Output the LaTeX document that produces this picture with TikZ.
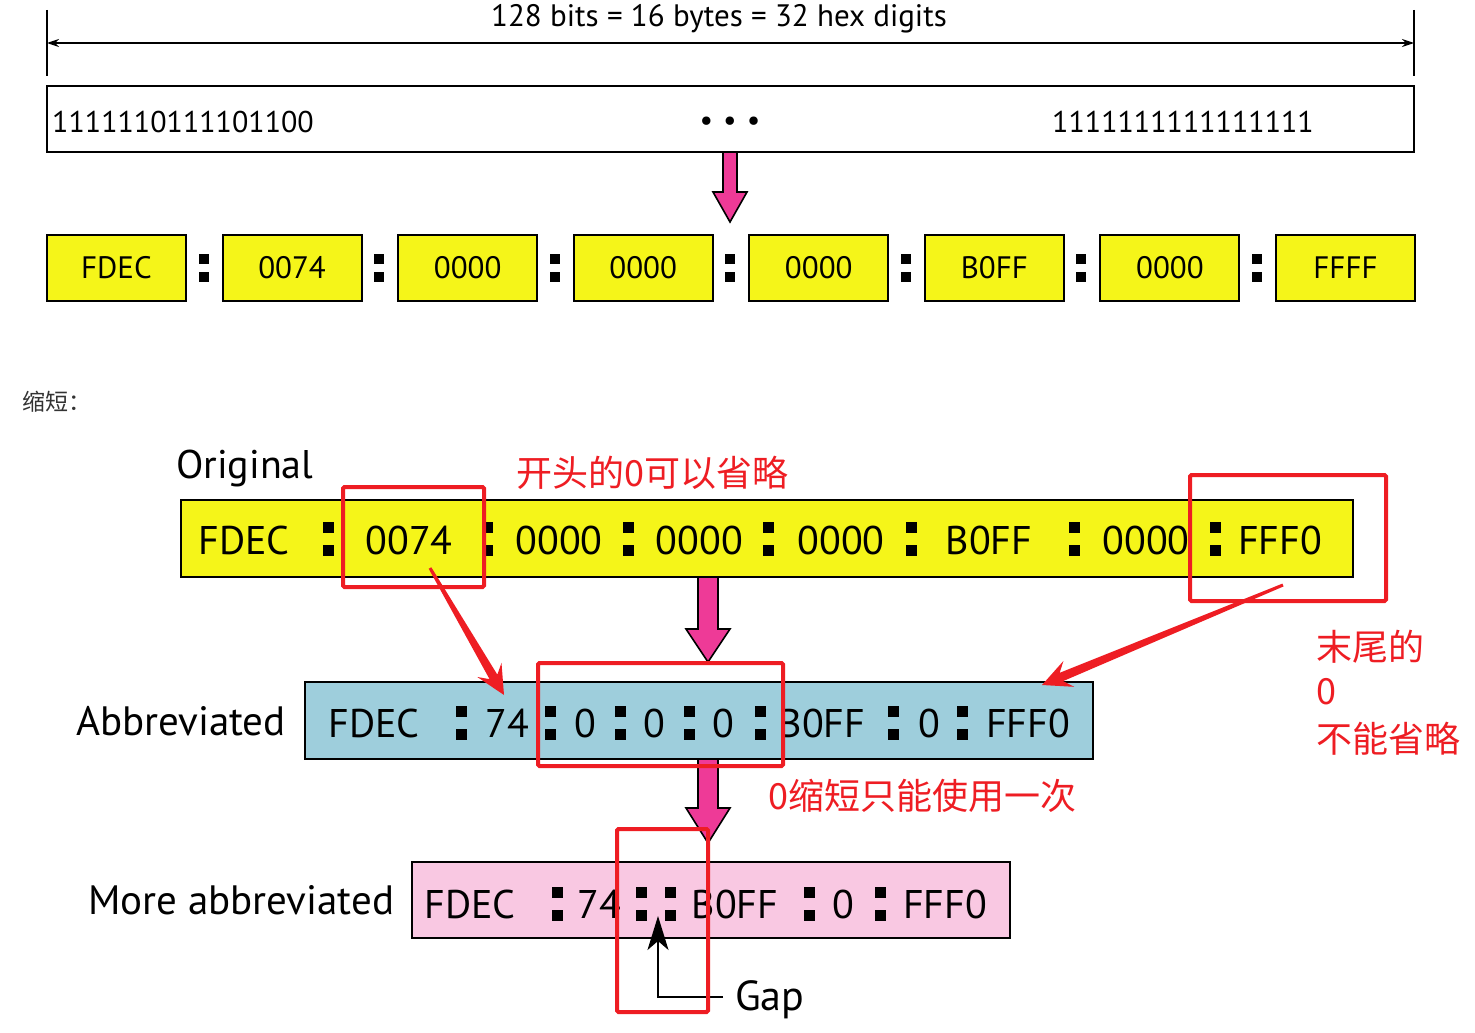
\documentclass[tikz,border=0pt]{standalone}
\usepackage{fontspec}
\setmainfont{PT Sans}
\newfontfamily\cjk{Noto Sans CJK SC}
\usetikzlibrary{arrows.meta,calc}
\definecolor{yel}{HTML}{F5F519}
\definecolor{blu}{HTML}{9ECEDC}
\definecolor{pnk}{HTML}{F9C8E2}
\definecolor{parr}{HTML}{EE3A97}
\definecolor{rd}{HTML}{EE1D23}
\definecolor{gry}{HTML}{333333}
\newcommand\pinkarr[6]{% x, ytop, yhead, ytip, halfshaft, halfhead
  \draw[fill=parr,line width=1.6pt,line join=miter]
    ({#1-#5},#2) -- ({#1+#5},#2) -- ({#1+#5},#3) -- ({#1+#6},#3) -- (#1,#4)
    -- ({#1-#6},#3) -- ({#1-#5},#3) -- cycle;}
% tapered red arrow from named coordinate #1 to named coordinate #2
\newcommand\taperarr[2]{%
  \fill[rd]
    ($(#1)!1.5pt!90:(#2)$) --
    ($($(#2)!21pt!(#1)$)!4.5pt!-90:(#1)$) --
    ($($(#2)!29pt!(#1)$)!14pt!-90:(#1)$) --
    (#2) --
    ($($(#2)!29pt!(#1)$)!14pt!90:(#1)$) --
    ($($(#2)!21pt!(#1)$)!4.5pt!90:(#1)$) --
    ($(#1)!1.5pt!-90:(#2)$) -- cycle;}
\begin{document}
\begin{tikzpicture}[x=1pt,y=-1pt,
  cell/.style={draw=black,line width=2pt,fill=yel,inner sep=0pt,outer sep=0pt,
    anchor=north west,minimum width=139pt,minimum height=66pt,font=\fontsize{31}{31}\selectfont},
  bar/.style={draw=black,line width=2pt,inner sep=0pt,outer sep=0pt,anchor=north west},
  bt/.style={inner sep=0pt,font=\fontsize{40}{40}\selectfont},
  lbl/.style={inner sep=0pt,anchor=base west,font=\fontsize{41}{41}\selectfont},
  rt/.style={inner sep=0pt,anchor=base west,text=rd,font=\cjk\fontsize{36}{36}\selectfont},
  hl/.style={draw=rd,line width=4pt,rounded corners=1.5pt,inner sep=0pt,outer sep=0pt,anchor=north west},
  colS/.pic={\fill (-5,-14) rectangle (5,-4); \fill (-5,4) rectangle (5,14);},
  colL/.pic={\fill (-5.5,-17) rectangle (5.5,-6); \fill (-5.5,6) rectangle (5.5,17);}
]
\useasboundingbox (0,0) rectangle (1475,1033);
% ---------- top part ----------
\draw[line width=2pt] (47,10) -- (47,76);
\draw[line width=2pt] (1414,10) -- (1414,76);
\coordinate (dl) at (47,43);
\coordinate (dr) at (1414,43);
\draw[line width=1.2pt,{Stealth[length=12pt,width=8pt]}-{Stealth[length=12pt,width=8pt]}] (dl) -- (dr);
\node[inner sep=0pt,anchor=base,font=\fontsize{31}{31}\selectfont] (dim) at (719,27) {128 bits = 16 bytes = 32 hex digits};
\node[bar,minimum width=1367pt,minimum height=66pt] (bits) at (47,86) {};
\node[inner sep=0pt,anchor=base west,font=\fontsize{30}{30}\selectfont] (b1) at (52,132) {1111110111101100};
\node[inner sep=0pt,anchor=base,font=\fontsize{30}{30}\selectfont] (b2) at (730,130) {•\,\,•\,\,•};
\node[inner sep=0pt,anchor=base west,font=\fontsize{30}{30}\selectfont] (b3) at (1052,132) {1111111111111111};
\pinkarr{730}{152}{192}{222}{7}{17}
\foreach \i/\t in {0/FDEC,1/0074,2/0000,3/0000,4/0000,5/B0FF,6/0000,7/FFFF}{
  \node[cell] (r\i) at ({47+175.57*\i},235) {\t};
}
\foreach \x in {204,379,555,730,906,1081,1257}{ \pic at (\x,268) {colS}; }
% ---------- heading ----------
\node[inner sep=0pt,anchor=base west,text=gry,font=\cjk\fontsize{23}{23}\selectfont] (hd) at (22,410) {缩短：};
% ---------- original ----------
\node[lbl,font=\fontsize{40}{40}\selectfont] (lo) at (176,478) {Original};
\node[bar,fill=yel,minimum width=1172pt,minimum height=77pt] (orig) at (181,500) {};
\foreach \x/\t in {244/FDEC,409/0074,559/0000,699.5/0000,841/0000,989/B0FF,1146/0000,1280/FFF0}{
  \node[bt] (o\x) at (\x,540) {\t};
}
\foreach \x in {328,487,628,768,911,1074,1215}{ \pic at (\x,538.5) {colL}; }
% ---------- abbreviated ----------
\node[lbl] (la) at (76,735) {Abbreviated};
\node[bar,fill=blu,minimum width=788pt,minimum height=77pt] (abbr) at (305,682) {};
\foreach \x/\t in {374/FDEC,507/74,585/0,654/0,723/0,822/B0FF,929/0,1028/FFF0}{
  \node[bt] (a\x) at (\x,723) {\t};
}
\foreach \x in {461,550,620,689.5,760,893,962}{ \pic at (\x,723) {colL}; }
% ---------- more abbreviated ----------
\node[lbl] (lm) at (88,914) {More abbreviated};
\node[bar,fill=pnk,minimum width=598pt,minimum height=76pt] (more) at (412,862) {};
\foreach \x/\t in {470/FDEC,599/74,735/B0FF,843/0,945/FFF0}{
  \node[bt] (m\x) at (\x,904) {\t};
}
\foreach \x in {557,641,670,809,880}{ \pic at (\x,904) {colL}; }
% ---------- pink block arrows ----------
\pinkarr{708}{577}{629}{662}{10}{22}
\pinkarr{708}{759}{808}{843}{10}{22}
% ---------- gap ----------
\node[lbl,font=\fontsize{42}{42}\selectfont] (gap) at (735,1010) {Gap};
\coordinate (ge) at (723,997);
\coordinate (gc) at (658,997);
\coordinate (gt) at (658,916);
\draw[line width=2pt,-{Stealth[length=34pt,width=21pt,inset=9pt]}] (ge) -- (gc) -- (gt);
% ---------- red annotations ----------
\node[rt] (t1) at (516,486) {开头的0可以省略};
\node[rt] (t2) at (768,809) {0缩短只能使用一次};
\node[rt] (t3) at (1316,660) {末尾的};
\node[rt] (t4) at (1316,704) {0};
\node[rt] (t5) at (1316,752) {不能省略};
\node[hl,minimum width=141pt,minimum height=100pt] (h1) at (343,487) {};
\node[hl,minimum width=196pt,minimum height=126pt] (h2) at (1190,475) {};
\node[hl,minimum width=245pt,minimum height=103pt] (h3) at (538,663) {};
\node[hl,minimum width=91pt,minimum height=183pt] (h4) at (617,829) {};
\coordinate (ra1s) at (430,568);
\coordinate (ra1e) at (504,695);
\coordinate (ra2s) at (1283,585);
\coordinate (ra2e) at (1042,685);
\taperarr{ra1s}{ra1e}
\taperarr{ra2s}{ra2e}
\end{tikzpicture}
\end{document}
